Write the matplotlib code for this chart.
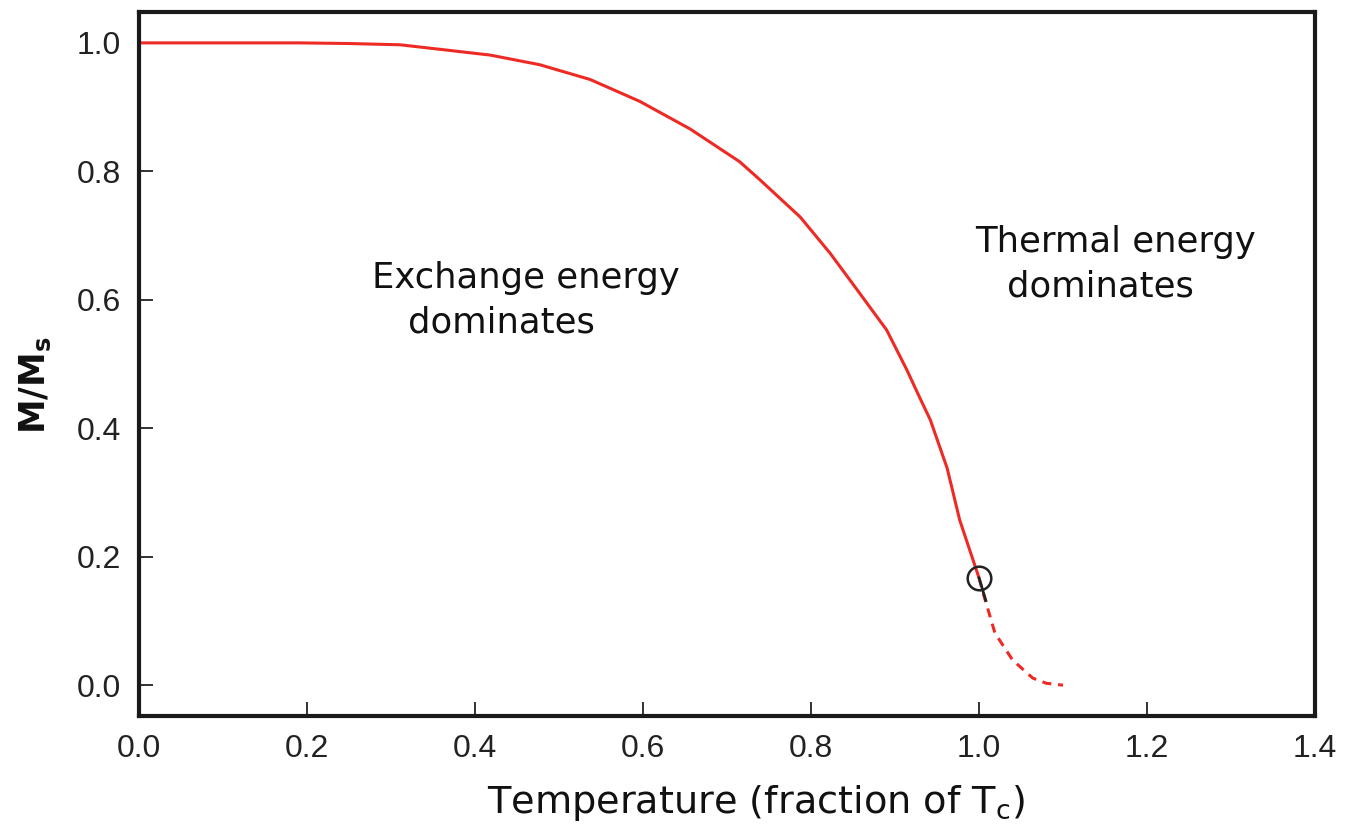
import numpy as np
import matplotlib
matplotlib.use("Agg")
import matplotlib.pyplot as plt

plt.rcParams["mathtext.default"] = "regular"

# magnetisation vs temperature
t_solid = [0.0, 0.1, 0.19, 0.25, 0.311, 0.358, 0.418, 0.477, 0.537, 0.596, 0.656,
           0.715, 0.739, 0.787, 0.823, 0.858, 0.890, 0.914, 0.930, 0.942, 0.962, 0.977, 1.0]
m_solid = [1.0, 1.0, 1.0, 0.999, 0.997, 0.990, 0.981, 0.966, 0.943, 0.909, 0.866,
           0.815, 0.787, 0.729, 0.672, 0.610, 0.553, 0.491, 0.446, 0.413, 0.338, 0.257, 0.167]

t_dash = [1.0, 1.005, 1.019, 1.040, 1.064, 1.08, 1.1]
m_dash = [0.167, 0.143, 0.081, 0.039, 0.011, 0.003, 0.0]

tc_point = (1.0, 0.167)

xticks = [0.0, 0.2, 0.4, 0.6, 0.8, 1.0, 1.2, 1.4]
yticks = [0.0, 0.2, 0.4, 0.6, 0.8, 1.0]

red = "#ee2a24"
hand = "DejaVu Sans"

fig = plt.figure(figsize=(13.46, 8.25), dpi=100)
ax = fig.add_axes([0.1033, 0.1321, 0.8737, 0.8533])

ax.plot(t_solid, m_solid, color=red, lw=2.2, solid_capstyle="butt", solid_joinstyle="round")
ax.plot(t_dash, m_dash, color=red, lw=2.2, ls=(0, (3, 2.2)))
ax.plot([tc_point[0], tc_point[0] + 0.008], [tc_point[1], tc_point[1] - 0.035], color="#222222", lw=2.0)
ax.plot(*tc_point, marker="o", ms=17, mfc="none", mec="#222222", mew=1.8)

ax.set_xlim(0, 1.4)
ax.set_ylim(-0.048, 1.048)
ax.set_xticks(xticks)
ax.set_yticks(yticks)
ax.set_xticklabels([f"{v:.1f}" for v in xticks])
ax.set_yticklabels([f"{v:.1f}" for v in yticks])
ax.tick_params(direction="in", length=10, width=1.3, labelsize=23, color="#222222",
               labelcolor="#222222", pad=13)
for lab in ax.get_xticklabels() + ax.get_yticklabels():
    lab.set_family("Liberation Sans")

for s in ax.spines.values():
    s.set_linewidth(3.0)
    s.set_color("#1a1a1a")

ax.set_xlabel("Temperature (fraction of T$_c$)", fontsize=27.5, family=hand, color="#111111")
ax.xaxis.set_label_coords(0.525, -0.095)
ax.set_ylabel("M/M$_s$", fontsize=25, family=hand, fontweight="bold", color="#111111")
ax.yaxis.set_label_coords(-0.073, 0.47)

txt = dict(fontsize=25.5, family=hand, color="#111111", va="center", ha="left")
ax.text(0.277, 0.634, "Exchange energy", **txt)
ax.text(0.320, 0.565, "dominates", **txt)
ax.text(0.995, 0.690, "Thermal energy", **txt)
ax.text(1.033, 0.620, "dominates", **txt)

fig.savefig("out.png", dpi=100)
